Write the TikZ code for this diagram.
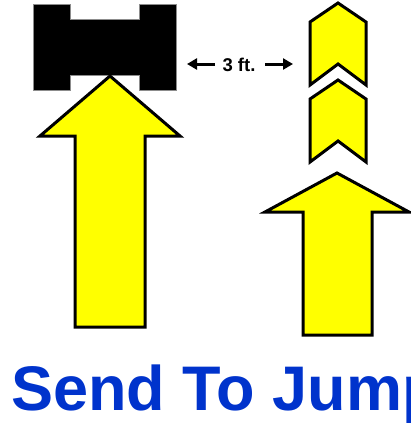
\documentclass[tikz,border=0pt]{standalone}
\usepackage{fontspec}
\setmainfont{Liberation Sans}
\usetikzlibrary{arrows.meta}
\definecolor{arrowyellow}{RGB}{255,255,0}
\definecolor{titleblue}{RGB}{0,51,204}
\begin{document}
\begin{tikzpicture}[x=1pt,y=-1pt,
  yshape/.style={fill=arrowyellow,draw=black,line width=3pt,line join=miter},
  jumpshape/.style={fill=black,draw=black!45,line width=0.6pt},
  dimarrow/.style={line width=3pt,-{Triangle[length=10pt,width=11pt]}}]
\useasboundingbox (0,0) rectangle (411,423);
\clip (0,0) rectangle (411,423);
% jump (black)
\draw[jumpshape] (33,4) -- (70,4) -- (70,19) -- (139,19) -- (139,4) -- (176,4) -- (176,90)
  -- (139,90) -- (139,75) -- (70,75) -- (70,90) -- (33,90) -- cycle;
% left big arrow
\draw[yshape] (110,76) -- (180,136) -- (145,136) -- (145,327) -- (75,327) -- (75,136) -- (40,136) -- cycle;
% chevrons
\foreach \dy in {0,77}{
  \draw[yshape] (338,3+\dy) -- (366,22+\dy) -- (366,85+\dy) -- (338,64+\dy) -- (310,85+\dy) -- (310,22+\dy) -- cycle;
}
% right big arrow
\draw[yshape] (337,173) -- (409,212) -- (372,212) -- (372,335) -- (303,335) -- (303,212) -- (265,212) -- cycle;
% 3 ft. label
\node[font=\bfseries\fontsize{18.5}{20}\selectfont,inner sep=0pt,anchor=base] (ft) at (239,71) {3 ft.};
\coordinate (lt) at (187,64);
\coordinate (rt) at (293,64);
\draw[dimarrow] (215,64) -- (lt);
\draw[dimarrow] (265,64) -- (rt);
% title
\node[font=\bfseries\fontsize{63}{70}\selectfont,text=titleblue,inner sep=0pt,anchor=base west] (title) at (11,410) {Send To Jump};
\end{tikzpicture}
\end{document}
